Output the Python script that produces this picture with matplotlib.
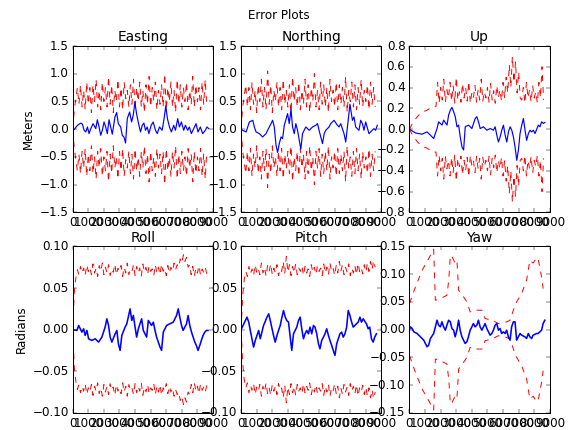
import numpy as np
import matplotlib
matplotlib.use('Agg')
import matplotlib.pyplot as plt

plt.style.use('classic')

# ── Error (blue) series: (x, y) ──
east_x = [0, 92, 305, 520, 625, 730, 840, 945, 1050, 1160, 1305, 1480, 1580, 1690, 1795, 1900, 2010, 2115,
          2220, 2330, 2435, 2540, 2710, 2820, 2925, 3075, 3180, 3285, 3390, 3500, 3650, 3775, 3880, 3990,
          4095, 4200, 4350, 4460, 4565, 4670, 4780, 4885, 5035, 5160, 5310, 5420, 5565, 5735, 5845, 5970,
          6075, 6205, 6330, 6480, 6590, 6735, 6845, 6970, 7120, 7225, 7375, 7480, 7610, 7760, 7910, 8035,
          8185, 8335, 8505, 8610, 8720]
east_y = [0.0, -0.006, 0.07, 0.11, 0.09, -0.02, -0.05, 0.04, -0.08, 0.01, 0.1, 0.01, 0.17, 0.04, -0.11,
          -0.02, 0.13, 0.04, -0.08, 0.17, 0.04, -0.09, 0.22, 0.3, 0.1, 0.04, -0.11, -0.14, -0.25, 0.19, 0.31,
          0.13, 0.25, 0.48, 0.28, 0.13, -0.05, 0.07, 0.11, -0.02, 0.04, -0.08, 0.07, 0.13, -0.02, -0.08, 0.04,
          -0.02, 0.16, 0.42, 0.19, 0.04, -0.05, 0.07, -0.02, 0.19, 0.04, 0.13, -0.02, 0.07, -0.02, 0.04,
          -0.08, 0.01, 0.1, -0.05, 0.04, -0.08, -0.02, 0.04, 0.01]

north_x = [0, 100, 320, 530, 750, 850, 960, 1170, 1380, 1600, 1700, 1920, 2020, 2130, 2240, 2340, 2450,
           2560, 2660, 2770, 2980, 3090, 3200, 3300, 3410, 3510, 3620, 3730, 3830, 3940, 4150, 4370, 4580,
           4790, 4900, 5000, 5220, 5330, 5430, 5640, 5750, 5960, 6180, 6280, 6390, 6600, 6710, 6820, 6980,
           7140, 7240, 7350, 7560, 7670, 7780, 7880, 7990, 8200, 8410, 8520, 8630, 8730]
north_y = [0.0, -0.02, -0.05, 0.13, 0.16, 0.04, -0.05, -0.08, -0.14, -0.08, -0.02, 0.1, 0.16, 0.04, -0.29,
           -0.42, -0.26, -0.14, -0.17, 0.07, 0.28, 0.1, 0.36, 0.04, -0.08, 0.1, -0.02, -0.2, -0.36, -0.08,
           0.04, -0.02, 0.04, 0.07, 0.1, -0.02, -0.26, -0.08, -0.02, 0.04, 0.1, 0.16, 0.07, 0.04, 0.1, -0.08,
           -0.23, 0.04, 0.45, 0.16, 0.22, 0.04, -0.02, 0.16, 0.1, -0.02, 0.13, -0.08, -0.02, 0.01, -0.02, 0.07]

up_x = [0, 380, 805, 1125, 1340, 1550, 1765, 1870, 2085, 2190, 2405, 2510, 2620, 2725, 2830, 2935, 3045,
        3150, 3255, 3365, 3470, 3575, 3790, 4000, 4215, 4320, 4425, 4535, 4745, 4960, 5175, 5385, 5495,
        5600, 5705, 5815, 5920, 6025, 6135, 6240, 6345, 6455, 6560, 6665, 6770, 6880, 6985, 7090, 7200,
        7305, 7410, 7515, 7625, 7730, 7835, 7945, 8050, 8265, 8370, 8475, 8580, 8690]
up_y = [0.0, -0.036, -0.048, -0.026, -0.058, -0.09, 0.006, 0.071, 0.039, 0.087, 0.039, 0.136, 0.184, 0.21,
        0.168, 0.12, 0.023, 0.039, -0.074, -0.171, -0.2, 0.023, 0.039, 0.006, 0.103, 0.12, 0.071, 0.006,
        0.023, -0.01, 0.006, -0.01, 0.023, -0.058, -0.123, -0.074, -0.01, 0.039, -0.058, -0.123, -0.026,
        0.023, -0.01, -0.074, -0.171, -0.3, -0.2, -0.042, 0.039, 0.103, -0.01, -0.107, -0.042, -0.01,
        -0.026, -0.01, -0.042, 0.039, 0.023, 0.071, 0.055, 0.065]

roll_x = [0, 275, 380, 590, 700, 800, 910, 1020, 1230, 1440, 1660, 1870, 2080, 2190, 2300, 2400, 2510,
          2720, 2830, 2930, 3040, 3150, 3360, 3470, 3680, 3790, 3890, 4000, 4100, 4210, 4420, 4530, 4740,
          4850, 5060, 5170, 5280, 5380, 5600, 5700, 5810, 6020, 6230, 6450, 6660, 6770, 6870, 6980, 7080,
          7300, 7400, 7510, 7620, 7830, 7930, 8040, 8150, 8250, 8360, 8470, 8570, 8680]
roll_y = [0.0, -0.001, 0.005, -0.003, 0.001, -0.007, -0.001, -0.011, -0.013, -0.011, -0.015, -0.009,
          0.003, 0.013, 0.005, -0.009, -0.015, -0.005, -0.001, -0.017, -0.025, -0.007, 0.003, 0.007, 0.025,
          0.011, 0.017, 0.003, -0.009, 0.001, 0.013, -0.001, -0.009, 0.011, 0.005, 0.009, -0.001, -0.009,
          -0.021, -0.025, -0.003, 0.005, 0.007, 0.009, 0.017, 0.025, 0.015, 0.005, -0.001, 0.007, 0.017,
          0.005, -0.003, -0.015, -0.019, -0.025, -0.019, -0.013, -0.007, -0.003, -0.001, -0.001]

pitch_x = [0, 275, 380, 490, 590, 800, 910, 1125, 1230, 1440, 1660, 1770, 1870, 2080, 2190, 2300, 2400,
           2510, 2620, 2720, 2830, 2930, 3040, 3150, 3250, 3360, 3570, 3680, 3790, 3890, 4000, 4100, 4210,
           4320, 4420, 4530, 4640, 4740, 4850, 4960, 5060, 5170, 5280, 5380, 5490, 5600, 5700, 5810, 5910,
           6020, 6130, 6340, 6450, 6550, 6660, 6770, 6870, 6980, 7090, 7190, 7400, 7510, 7620, 7720, 7830,
           8040, 8150, 8250, 8360, 8470, 8570, 8680]
pitch_y = [0.0, 0.011, 0.015, 0.009, -0.001, -0.021, -0.013, -0.001, -0.011, 0.005, 0.015, 0.019, 0.011,
           -0.007, -0.015, -0.007, -0.001, 0.005, 0.015, 0.023, 0.015, 0.011, 0.009, -0.009, -0.025, -0.005,
           0.003, 0.011, 0.015, 0.001, -0.011, -0.005, -0.001, -0.005, 0.003, -0.005, 0.005, 0.003, -0.005,
           -0.017, -0.023, -0.013, -0.009, -0.005, 0.001, -0.007, -0.013, -0.019, -0.025, -0.031, -0.017,
           -0.005, -0.003, -0.009, -0.005, 0.003, 0.023, 0.017, 0.009, 0.003, 0.007, 0.009, 0.015, 0.009,
           0.013, 0.007, 0.001, 0.003, -0.011, -0.015, -0.009, -0.005]

yaw_x = [0, 62, 170, 277, 490, 700, 913, 1125, 1230, 1340, 1550, 1660, 1765, 1870, 1980, 2080, 2190, 2300,
         2400, 2510, 2620, 2720, 2830, 2930, 3040, 3150, 3250, 3360, 3570, 3680, 3780, 3890, 4000, 4100,
         4210, 4320, 4420, 4530, 4640, 4850, 4960, 5170, 5280, 5380, 5490, 5600, 5700, 5810, 5910, 6020,
         6130, 6230, 6340, 6450, 6550, 6660, 6770, 6870, 6980, 7090, 7190, 7400, 7510, 7620, 7720, 7830,
         7930, 8150, 8250, 8470, 8570, 8680]
yaw_y = [0.0, 0.005, 0.002, -0.004, -0.007, -0.013, -0.019, -0.031, -0.028, -0.016, -0.007, 0.005, 0.017,
         0.008, 0.005, 0.014, 0.005, -0.001, 0.008, 0.017, 0.014, 0.002, -0.001, -0.013, -0.001, 0.017,
         -0.001, -0.013, -0.025, -0.022, -0.013, -0.001, 0.005, 0.011, 0.005, 0.008, 0.017, 0.005, -0.001,
         0.011, 0.002, -0.01, -0.007, -0.001, 0.008, 0.011, -0.001, 0.002, -0.007, -0.004, -0.007, -0.001,
         -0.013, -0.019, 0.005, 0.014, 0.014, -0.019, -0.013, -0.007, -0.01, -0.013, -0.016, -0.007,
         -0.013, -0.016, -0.01, -0.007, -0.007, -0.001, 0.011, 0.017]

# ── Bounds (red, +/-), one sample every 100 steps ──
east_sig = [0.0, 0.35, 0.55, 0.75, 0.45, 0.8, 0.4, 0.7, 0.35, 0.85, 0.45, 0.75, 0.3, 0.8, 0.5, 0.9, 0.4,
            0.7, 0.35, 0.85, 0.5, 0.75, 0.4, 0.95, 0.45, 0.8, 0.3, 0.7, 0.5, 0.9, 0.4, 0.75, 0.35, 0.85,
            0.55, 0.7, 0.4, 0.8, 0.45, 0.9, 0.35, 0.75, 0.5, 0.85, 0.4, 0.7, 0.3, 0.8, 0.45, 0.95, 0.4,
            0.75, 0.5, 0.85, 0.35, 0.7, 0.45, 0.8, 0.4, 1.0, 0.35, 0.75, 0.5, 0.85, 0.4, 0.7, 0.3, 0.9,
            0.45, 0.8, 0.4, 0.75, 0.5, 0.85, 0.35, 0.7, 0.45, 0.95, 0.4, 0.8, 0.5, 0.75, 0.35, 0.85, 0.45,
            0.9, 0.4]
north_sig = [0.0, 0.4, 0.6, 0.8, 0.4, 0.75, 0.35, 0.85, 0.45, 0.7, 0.3, 0.8, 0.5, 0.9, 0.4, 0.75, 0.35,
             1.05, 0.45, 0.8, 0.3, 0.7, 0.5, 0.85, 0.4, 0.75, 0.35, 0.9, 0.45, 0.7, 0.4, 0.8, 0.3, 0.95,
             0.5, 0.75, 0.4, 0.85, 0.35, 0.7, 0.45, 0.9, 0.4, 0.8, 0.3, 0.75, 0.5, 1.0, 0.4, 0.7, 0.35,
             0.85, 0.45, 0.8, 0.4, 0.75, 0.3, 0.9, 0.5, 0.7, 0.4, 0.85, 0.35, 0.8, 0.45, 0.75, 0.4, 0.95,
             0.3, 0.7, 0.5, 0.85, 0.4, 0.8, 0.35, 0.75, 0.45, 0.9, 0.4, 0.7, 0.5, 0.8, 0.35, 0.85, 0.45,
             0.75, 0.4]
up_sig = [0.0, 0.03, 0.06, 0.08, 0.1, 0.12, 0.135, 0.15, 0.16, 0.17, 0.175, 0.18, 0.19, 0.2, 0.2, 0.21,
          0.22, 0.22, 0.45, 0.25, 0.4, 0.28, 0.48, 0.26, 0.38, 0.3, 0.45, 0.27, 0.42, 0.25, 0.5, 0.28,
          0.36, 0.26, 0.44, 0.3, 0.4, 0.27, 0.46, 0.25, 0.35, 0.3, 0.42, 0.26, 0.38, 0.28, 0.48, 0.27,
          0.36, 0.3, 0.4, 0.26, 0.44, 0.28, 0.37, 0.25, 0.42, 0.3, 0.38, 0.27, 0.45, 0.3, 0.5, 0.35, 0.62,
          0.4, 0.7, 0.45, 0.65, 0.35, 0.55, 0.3, 0.28, 0.4, 0.25, 0.45, 0.3, 0.38, 0.26, 0.42, 0.3, 0.36,
          0.25, 0.45, 0.3, 0.6, 0.28]
roll_sig = [0.0, 0.045, 0.062, 0.072, 0.066, 0.076, 0.068, 0.074, 0.065, 0.078, 0.07, 0.075, 0.066, 0.079,
            0.068, 0.074, 0.064, 0.077, 0.07, 0.08, 0.066, 0.075, 0.068, 0.078, 0.065, 0.073, 0.069, 0.079,
            0.066, 0.074, 0.07, 0.077, 0.064, 0.075, 0.068, 0.08, 0.066, 0.073, 0.07, 0.078, 0.065, 0.076,
            0.068, 0.074, 0.064, 0.079, 0.069, 0.075, 0.066, 0.077, 0.07, 0.073, 0.065, 0.078, 0.068, 0.075,
            0.066, 0.079, 0.07, 0.074, 0.065, 0.077, 0.068, 0.075, 0.07, 0.08, 0.072, 0.078, 0.075, 0.085,
            0.08, 0.09, 0.082, 0.087, 0.075, 0.078, 0.066, 0.076, 0.064, 0.074, 0.068, 0.077, 0.065, 0.073,
            0.069, 0.075, 0.067]
pitch_sig = [0.0, 0.04, 0.06, 0.07, 0.064, 0.076, 0.067, 0.073, 0.065, 0.078, 0.069, 0.074, 0.066, 0.08,
             0.068, 0.075, 0.064, 0.077, 0.07, 0.079, 0.066, 0.074, 0.068, 0.078, 0.065, 0.073, 0.07, 0.082,
             0.067, 0.088, 0.069, 0.078, 0.065, 0.076, 0.068, 0.079, 0.066, 0.074, 0.07, 0.077, 0.065,
             0.076, 0.068, 0.073, 0.064, 0.078, 0.069, 0.075, 0.066, 0.077, 0.07, 0.074, 0.065, 0.079,
             0.068, 0.075, 0.066, 0.08, 0.07, 0.074, 0.065, 0.077, 0.068, 0.082, 0.07, 0.078, 0.066, 0.075,
             0.069, 0.079, 0.065, 0.074, 0.068, 0.077, 0.066, 0.08, 0.07, 0.075, 0.067, 0.078, 0.069, 0.08,
             0.07, 0.082, 0.072, 0.083, 0.075]
# yaw bound is smooth, so it keeps its own x positions
yaw_sig_x = [0, 380, 807, 1230, 1550, 1660, 1980, 2400, 2520, 2620, 2720, 2890, 3040, 3150, 3470, 3680,
             3890, 4210, 4640, 4850, 5280, 5700, 6230, 6450, 6660, 6870, 7190, 7510, 7720, 7930, 8150,
             8250, 8470, 8570]
yaw_sig = [0.047, 0.077, 0.107, 0.128, 0.145, 0.053, 0.056, 0.062, 0.09, 0.134, 0.132, 0.122, 0.126,
           0.071, 0.059, 0.05, 0.032, 0.035, 0.035, 0.02, 0.017, 0.011, 0.014, 0.017, 0.035, 0.05, 0.065,
           0.089, 0.125, 0.12, 0.13, 0.128, 0.095, 0.074]

titles = ['Easting', 'Northing', 'Up', 'Roll', 'Pitch', 'Yaw']
ylims = [1.5, 1.5, 0.8, 0.1, 0.1, 0.15]
yticks = [np.arange(-1.5, 1.51, 0.5), np.arange(-1.5, 1.51, 0.5), np.arange(-0.8, 0.81, 0.2),
          np.arange(-0.1, 0.101, 0.05), np.arange(-0.1, 0.101, 0.05), np.arange(-0.15, 0.151, 0.05)]

err = [(east_x, east_y), (north_x, north_y), (up_x, up_y),
       (roll_x, roll_y), (pitch_x, pitch_y), (yaw_x, yaw_y)]
bounds = [(np.arange(len(east_sig)) * 100, east_sig), (np.arange(len(north_sig)) * 100, north_sig),
          (np.arange(len(up_sig)) * 100, up_sig), (np.arange(len(roll_sig)) * 100, roll_sig),
          (np.arange(len(pitch_sig)) * 100, pitch_sig), (yaw_sig_x, yaw_sig)]

fig, axes = plt.subplots(2, 3, figsize=(8, 430 / 71.0), dpi=71)
fig.subplots_adjust(left=0.128, right=0.968, top=0.893, bottom=0.04, wspace=0.2, hspace=0.205)

for i, ax in enumerate(axes.flat):
    bx, bs = bounds[i]
    bs = np.array(bs)
    ax.plot(bx, bs, 'r--')
    ax.plot(bx, -bs, 'r--')
    ex, ey = err[i]
    lw = 1.6 if i >= 3 else 1.2
    ax.plot(ex, ey, 'b-', linewidth=lw)
    ax.set_xlim(0, 9000)
    ax.set_xticks(np.arange(0, 9001, 1000))
    ax.set_ylim(-ylims[i], ylims[i])
    ax.set_yticks(yticks[i])
    ax.set_title(titles[i], fontsize=14)

axes[0, 0].set_ylabel('Meters')
axes[1, 0].set_ylabel('Radians')
fig.text(0.491, 0.965, 'Error Plots', ha='center', va='center', fontsize=12)

fig.savefig('out.png', dpi=71, facecolor='white')
